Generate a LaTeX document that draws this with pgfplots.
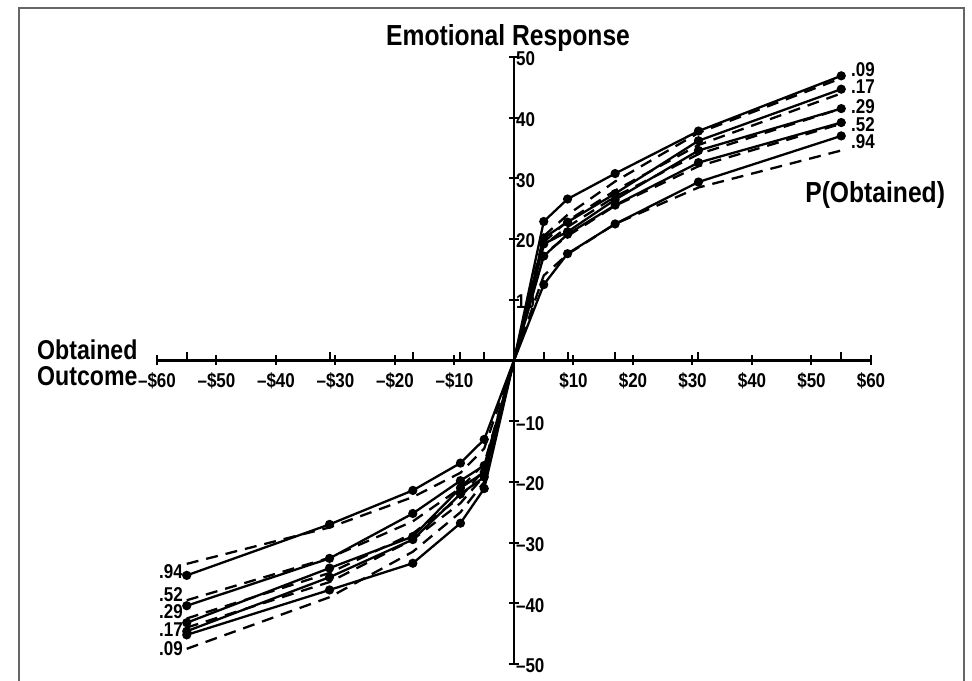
\documentclass[border=0pt]{standalone}
\usepackage{fontspec}
\setmainfont{Liberation Sans}[FakeStretch=0.85]
\usepackage{pgfplots}
\usepackage{pgfplotstable}
\pgfplotsset{compat=1.18}
\pgfplotstableread{
x    s09   s17   s29   s52   s94   d09   d17   d29   d52   d94
-55 -45.2 -44.6 -43.2 -40.4 -35.4 -47.5 -44.0 -42.5 -39.5 -33.5
-31 -37.8 -35.7 -34.2 -32.6 -27.0 -39.0 -36.5 -35.0 -32.5 -27.5
-17 -33.4 -29.5 -29.0 -25.2 -21.4 -31.5 -29.5 -28.5 -26.5 -22.5
-9  -26.8 -22.0 -21.0 -19.8 -16.9 -25.0 -23.5 -22.5 -21.0 -18.5
-5  -21.1 -19.2 -18.4 -17.3 -13.0 -20.0 -19.0 -18.0 -17.0 -14.5
0     0     0     0     0     0     0     0     0     0     0
5    22.9  20.2  19.2  17.2  12.5  20.5  19.5  19.0  17.5  14.0
9    26.6  22.8  21.2  20.8  17.6  24.0  23.0  22.0  20.5  17.5
17   30.8  27.5  26.5  25.6  22.5  29.5  28.0  27.0  25.5  22.5
31   37.8  36.2  34.6  32.6  29.4  37.5  35.5  34.0  32.0  28.5
55   46.9  44.7  41.5  39.2  37.0  46.5  44.0  41.5  39.0  34.6
}\datatable
\begin{document}
\begin{tikzpicture}
\begin{axis}[
  name=ax,
  scale only axis,
  width=357pt, height=303.5pt,
  xmin=-60, xmax=60, ymin=-50, ymax=50,
  axis lines=middle,
  axis line style={-, line width=1.1pt},
  clip=false,
  tick align=center,
  major tick length=5pt,
  tick style={line width=1pt, black},
  xtick={-60,-50,-40,-30,-20,-10,10,20,30,40,50,60},
  xticklabels={--\$60,--\$50,--\$40,--\$30,--\$20,--\$10,\$10,\$20,\$30,\$40,\$50,\$60},
  extra x ticks={-55,-31,-17,-9,-5,5,9,17,31,55},
  extra x tick labels={},
  extra x tick style={major tick length=4pt, tick style={yshift=2pt}},
  ytick={-50,-40,-30,-20,-10,10,20,30,40,50},
  yticklabels={--50,--40,--30,--20,--10,10,20,30,40,50},
  tick label style={font=\bfseries\fontsize{10}{12}\selectfont},
  xticklabel style={anchor=north, yshift=0pt},
  yticklabel style={anchor=west, xshift=0pt, yshift=-1pt},
]
\pgfplotsset{
  solidline/.style={black, line width=1.15pt, mark=*, mark size=1.7pt, mark options={solid},
    mark indices={1,2,3,4,5,7,8,9,10,11}},
  dashline/.style={black, line width=1.15pt, dash pattern=on 6pt off 4pt},
}
\addplot[solidline] table[x=x,y=s09]{\datatable};
\addplot[solidline] table[x=x,y=s17]{\datatable};
\addplot[solidline] table[x=x,y=s29]{\datatable};
\addplot[solidline] table[x=x,y=s52]{\datatable};
\addplot[solidline] table[x=x,y=s94]{\datatable};
\addplot[dashline] table[x=x,y=d09]{\datatable};
\addplot[dashline] table[x=x,y=d17]{\datatable};
\addplot[dashline] table[x=x,y=d29]{\datatable};
\addplot[dashline] table[x=x,y=d52]{\datatable};
\addplot[dashline] table[x=x,y=d94]{\datatable};

\node[font=\bfseries\fontsize{14.5}{16}\selectfont, inner sep=0pt] at (axis cs:-1,53.1) {Emotional Response};
\node[font=\bfseries\fontsize{14.5}{16}\selectfont, inner sep=0pt] at (axis cs:60.7,27.3) {P(Obtained)};
\node[font=\bfseries\fontsize{13.6}{14}\selectfont, anchor=base west, inner sep=0pt, text depth=0pt] at (axis cs:-80.2,0.1) {Obtained};
\node[font=\bfseries\fontsize{13.6}{14}\selectfont, anchor=base west, inner sep=0pt, text height=10pt, text depth=0pt] at (axis cs:-80.2,-4.2) {Outcome};

\begin{scope}[every node/.style={font=\bfseries\fontsize{10}{12}\selectfont, inner sep=0pt}]
\node[anchor=west] at (axis cs:56.6,48.0) {.09};
\node[anchor=west] at (axis cs:56.6,45.1) {.17};
\node[anchor=west] at (axis cs:56.6,41.9) {.29};
\node[anchor=west] at (axis cs:56.6,38.8) {.52};
\node[anchor=west] at (axis cs:56.6,36.0) {.94};
\node[anchor=east] at (axis cs:-55.6,-34.8) {.94};
\node[anchor=east] at (axis cs:-55.6,-38.6) {.52};
\node[anchor=east] at (axis cs:-55.6,-41.4) {.29};
\node[anchor=east] at (axis cs:-55.6,-44.4) {.17};
\node[anchor=east] at (axis cs:-55.6,-47.4) {.09};
\end{scope}
\end{axis}
\pgfresetboundingbox
\path[use as bounding box] ([shift={(-78.5pt,-8.5pt)}]ax.south west) rectangle ([shift={(50.5pt,28.5pt)}]ax.north east);
\draw[black!60, line width=1.2pt] ([shift={(46.5pt,-30pt)}]ax.south east) -- ([shift={(46.5pt,24.5pt)}]ax.north east) -- ([shift={(-69pt,24.5pt)}]ax.north west) -- ([shift={(-69pt,-30pt)}]ax.south west);
\end{tikzpicture}
\end{document}
